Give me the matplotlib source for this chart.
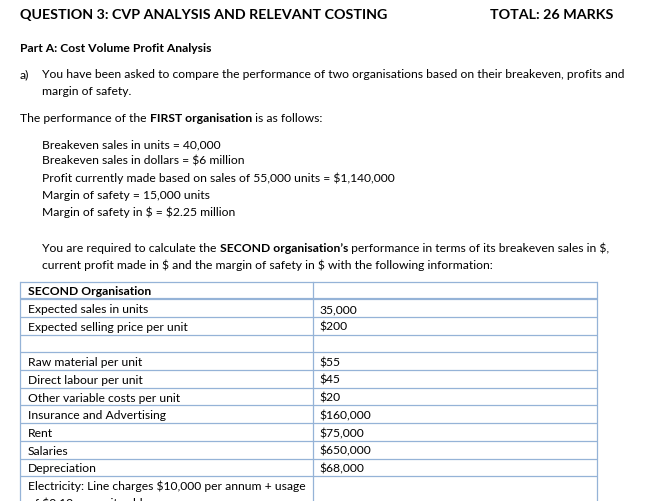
import matplotlib
matplotlib.use("Agg")
import matplotlib.pyplot as plt

plt.rcParams["text.parse_math"] = False

# --- document content ---
heading_left = "QUESTION 3: CVP ANALYSIS AND RELEVANT COSTING"
heading_right = "TOTAL: 26 MARKS"
part_title = "Part A: Cost Volume Profit Analysis"
intro_lines = ["You have been asked to compare the performance of two organisations based on their breakeven, profits and",
               "margin of safety."]
first_org = ["Breakeven sales in units = 40,000",
             "Breakeven sales in dollars = $6 million",
             "Profit currently made based on sales of 55,000 units = $1,140,000",
             "Margin of safety = 15,000 units",
             "Margin of safety in $ = $2.25 million"]

row_labels = ["SECOND Organisation", "Expected sales in units", "Expected selling price per unit", "",
              "Raw material per unit", "Direct labour per unit", "Other variable costs per unit",
              "Insurance and Advertising", "Rent", "Salaries", "Depreciation",
              "Electricity: Line charges $10,000 per annum + usage"]
row_values = ["", "35,000", "$200", "", "$55", "$45", "$20", "$160,000", "$75,000", "$650,000", "$68,000", ""]
last_row_extra = "of $0.10 per unit sold"

FONT = "Lato"
BODY = 8.7
HEAD = 10.3
BORDER = "#95b3d7"

fig = plt.figure(figsize=(6.57, 5.02), dpi=100)
ax = fig.add_axes([0, 0, 1, 1])
ax.set_xlim(0, 657)
ax.set_ylim(502, 0)
ax.axis("off")


def runs(x, y, parts, size=BODY):
    # draw a line made of (text, bold) pieces one after another
    prev = None
    for txt, bold in parts:
        w = "bold" if bold else "normal"
        if prev is None:
            prev = ax.text(x, y, txt, fontsize=size, fontweight=w, family=FONT, va="baseline", ha="left")
        else:
            prev = ax.annotate(txt, xy=(1, 0), xycoords=prev, fontsize=size, fontweight=w,
                               family=FONT, va="bottom", ha="left")
    return prev


# headings
ax.text(20, 19, heading_left, fontsize=HEAD, fontweight="bold", family=FONT, va="baseline")
ax.text(613, 19, heading_right, fontsize=HEAD, fontweight="bold", family=FONT, va="baseline", ha="right")
ax.text(20, 52, part_title, fontsize=BODY, fontweight="bold", family=FONT, va="baseline")

ax.text(20, 78, "a)", fontsize=BODY, family=FONT, va="baseline")
for i, line in enumerate(intro_lines):
    ax.text(42, 78 + 17 * i, line, fontsize=BODY, family=FONT, va="baseline")

runs(20, 122, [("The performance of the ", False), ("FIRST organisation", True), (" is as follows:", False)])

for i, line in enumerate(first_org):
    ax.text(42, 148 + 17 * i, line, fontsize=BODY, family=FONT, va="baseline")

runs(42, 252, [("You are required to calculate the ", False), ("SECOND organisation\u2019s", True),
               (" performance in terms of its breakeven sales in $,", False)])
ax.text(42, 269, "current profit made in $ and the margin of safety in $ with the following information:",
        fontsize=BODY, family=FONT, va="baseline")

# table
top, row_h = 282.5, 17.7
left, mid, right = 20, 313, 597
n = len(row_labels)
bounds = [top + row_h * i for i in range(n + 1)]
bottom = 520
for i, yb in enumerate(bounds[:-1]):
    ax.plot([left, right], [yb, yb], color=BORDER, lw=1.6 if i == 1 else 0.9, solid_capstyle="butt")
for xb in (left, mid, right):
    ax.plot([xb, xb], [top, bottom], color=BORDER, lw=0.9)

for i, (lab, val) in enumerate(zip(row_labels, row_values)):
    yc = bounds[i] + row_h / 2 + 4
    ax.text(28, yc, lab, fontsize=BODY, family=FONT, va="baseline",
            fontweight="bold" if i == 0 else "normal")
    if val:
        ax.text(319, yc, val, fontsize=BODY, family=FONT, va="baseline")
ax.text(28, bounds[n - 1] + row_h / 2 + 4 + 17, last_row_extra, fontsize=BODY, family=FONT, va="baseline")

fig.savefig("out.png", dpi=100)
